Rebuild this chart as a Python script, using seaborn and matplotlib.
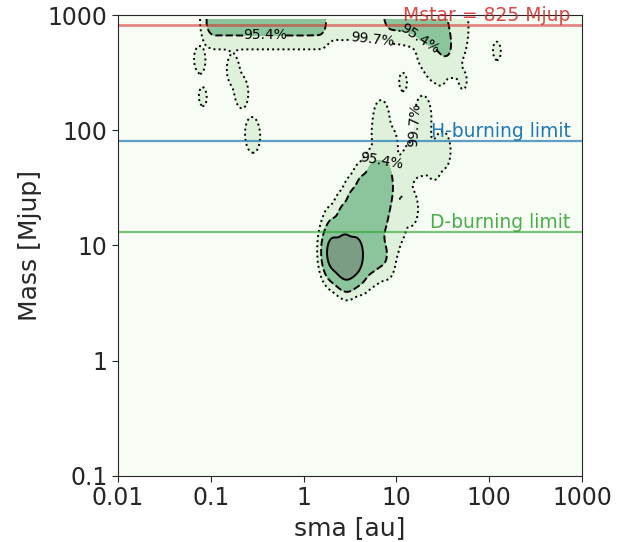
import matplotlib
matplotlib.use("Agg")
import matplotlib.pyplot as plt
from matplotlib.colors import ListedColormap, BoundaryNorm
from matplotlib.ticker import FixedLocator, NullLocator, FixedFormatter
import pandas as pd
import seaborn as sns

# Weighted posterior samples: semi-major axis [au], companion mass [Mjup]
core_sma = [2.09, 2.82, 3.72, 2.51, 3.31, 2.88]
core_mass = [8.5, 9.0, 8.5, 7.6, 7.6, 7.0]
core_w = [0.125] * 6

ridge_sma = [4.17, 5.01, 5.89, 6.92,
             1.91,
             1.91, 2.24, 4.47, 5.25,
             2.04, 2.40, 2.82, 3.31, 3.89, 4.57, 5.37, 6.31,
             2.69, 3.16, 3.72, 4.37, 5.13, 6.03, 7.08,
             3.39, 3.98, 4.68, 5.50, 6.46, 7.59,
             4.27, 5.01, 5.89, 6.92, 8.13,
             5.62, 6.61, 7.76]
ridge_mass = [6.3, 7.2, 7.9, 8.7,
              7.6,
              10, 10, 10, 10,
              13.2, 13.2, 13.2, 13.2, 13.2, 13.2, 13.2, 13.2,
              17.8, 17.8, 17.8, 17.8, 17.8, 17.8, 17.8,
              24, 24, 24, 24, 24, 24,
              31.6, 31.6, 31.6, 31.6, 31.6,
              41.7, 41.7, 41.7]
ridge_w = [0.0038] * 38

wide_sma = [0.100, 0.117, 0.138, 0.162, 0.191, 0.224, 0.263, 0.309, 0.363,
            0.427, 0.501, 0.589, 0.692, 0.813, 0.955, 1.12, 1.32, 1.55,
            8.32, 9.77, 11.5, 13.5, 15.8, 18.6, 21.9, 25.7, 30.2, 33.9,
            31.6, 25.1, 20.0]
wide_mass = [870] * 18 + [977, 977, 955, 933, 891, 832, 776, 708, 646, 575,
                          832, 912, 933]
wide_w = [0.0042] * 18 + [0.0045] * 13

tail_sma = [2.0, 2.51, 3.16, 3.98, 5.01, 6.31,
            24.0, 29.5, 39.8, 46.8, 49.0, 20.0,
            7.94, 8.91, 10.5, 14.1, 12.0, 14.5, 18.6, 25.1, 31.6,
            6.61, 6.92, 8.51, 19.1, 19.5,
            0.076, 0.174, 0.214, 0.282,
            121, 52, 11.8, 0.082, 1.23, 1.26]
tail_mass = [891, 891, 891, 891, 891, 891,
             400, 355, 417, 603, 832, 500,
             7.6, 11.2, 15.8, 21.4, 41.7, 53.7, 58.9, 53.7, 67.6,
             89.1, 126, 74.1, 95.5, 138,
             410, 331, 214, 91,
             488, 273, 262, 195, 30, 16.6]
tail_w = ([0.0009] * 26 + [0.0004, 0.0005, 0.0006, 0.0008]
          + [0.00025] * 4 + [0.0001] * 2)

# Reference masses [Mjup]
mstar = 825
h_burning = 80
d_burning = 13

credible = [0.997, 0.954, 0.683]
credible_labels = ["99.7%", "95.4%", "68.3%"]
band_colors = ["#dff1da", "#8cc59c", "#7b9d84"]

x_ticks = [0.01, 0.1, 1, 10, 100, 1000]
x_ticklabels = ["0.01", "0.1", "1", "10", "100", "1000"]
y_ticks = [0.1, 1, 10, 100, 1000]
y_ticklabels = ["0.1", "1", "10", "100", "1000"]

samples = pd.DataFrame({
    "sma": core_sma + ridge_sma + wide_sma + tail_sma,
    "mass": core_mass + ridge_mass + wide_mass + tail_mass,
    "w": core_w + ridge_w + wide_w + tail_w,
})

sns.set_style("ticks")
plt.rcParams["font.family"] = ["DejaVu Sans"]

fig = plt.figure(figsize=(6.33, 5.42), dpi=100)
ax = fig.add_axes([0.1864, 0.1218, 0.733, 0.8505])
ax.set_facecolor("#f7fcf5")

iso = sorted(1 - c for c in credible)  # iso-proportion levels
kde_kws = dict(x=samples["sma"], y=samples["mass"], weights=samples["w"],
               log_scale=True, bw_adjust=0.18, gridsize=320, cut=7,
               clip=((-3, 4), (-2, 2.965)), ax=ax)

n0 = len(ax.collections)
sns.kdeplot(fill=True, levels=iso + [1.0], cmap="Greens", **kde_kws)
filled = ax.collections[n0]
filled.set_cmap(ListedColormap(band_colors))
filled.set_norm(BoundaryNorm(filled.levels, ncolors=len(band_colors)))

n1 = len(ax.collections)
sns.kdeplot(fill=False, levels=iso, colors="k", linestyles=[":", "--", "-"],
            linewidths=1.4, **kde_kws)
cs = ax.collections[n1]
fmt = {lv: lab for lv, lab in zip(cs.levels, credible_labels)}
ax.clabel(cs, levels=cs.levels[:2], fmt=fmt, inline=True, fontsize=10,
          manual=[(0.38, 700), (18, 630), (7, 58), (5.5, 660), (16, 111)])

# Reference mass limits
trans = ax.get_yaxis_transform()
ax.axhline(mstar, color="tab:red", alpha=0.55, lw=2)
ax.text(0.975, mstar, f"Mstar = {mstar} Mjup", transform=trans, ha="right",
        va="bottom", color="tab:red", alpha=0.85, fontsize=13.5)
ax.axhline(h_burning, color="tab:blue", alpha=0.7, lw=1.6)
ax.text(0.975, h_burning, "H-burning limit", transform=trans, ha="right",
        va="bottom", color="tab:blue", fontsize=13.5)
ax.axhline(d_burning, color="tab:green", alpha=0.6, lw=1.6)
ax.text(0.975, d_burning, "D-burning limit", transform=trans, ha="right",
        va="bottom", color="tab:green", alpha=0.85, fontsize=13.5)

ax.set_xlim(0.01, 1000)
ax.set_ylim(0.1, 1000)
ax.xaxis.set_major_locator(FixedLocator(x_ticks))
ax.xaxis.set_major_formatter(FixedFormatter(x_ticklabels))
ax.yaxis.set_major_locator(FixedLocator(y_ticks))
ax.yaxis.set_major_formatter(FixedFormatter(y_ticklabels))
ax.xaxis.set_minor_locator(NullLocator())
ax.yaxis.set_minor_locator(NullLocator())
ax.tick_params(labelsize=17, length=4, colors="0.15")
ax.set_xlabel("sma [au]", fontsize=18)
ax.set_ylabel("Mass [Mjup]", fontsize=18)
for s in ax.spines.values():
    s.set_color("0.15")

fig.savefig("out.png", dpi=100)
